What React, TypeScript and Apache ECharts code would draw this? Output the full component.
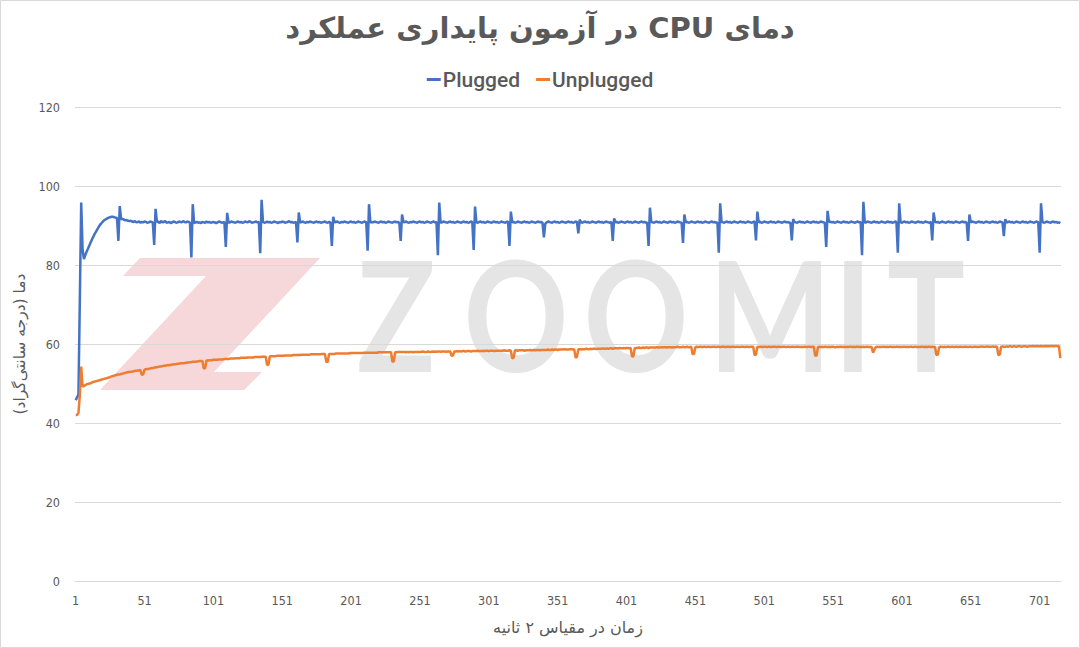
import React, { useEffect, useRef } from "react";
import * as echarts from "echarts";

const RLE = "\u202B";
const PDF = "\u202C";
const titleText = "دمای CPU در آزمون پایداری عملکرد";
const xAxisName = "زمان در مقیاس ۲ ثانیه";
const yAxisName = "دما (درجه سانتی‌گراد)";
const seriesNames = ["Plugged", "Unplugged"];
const yTicks = { min: 0, max: 120, interval: 20 };

// Plugged (blue) – 716 samples, 20 per row
const plugged: number[] = [
  45.8, 46.5, 47.2, 71.0, 95.8, 84.0, 81.5, 82.5, 83.4, 84.2, 85.0, 85.8, 86.6, 87.3, 88.0, 88.6, 89.2, 89.8, 90.3, 90.7,
  91.1, 91.4, 91.6, 91.8, 92.0, 92.1, 92.2, 92.2, 92.1, 92.0, 91.9, 86.1, 94.9, 91.6, 91.7, 91.5, 91.3, 91.4, 91.2, 91.1,
  91.2, 91.0, 90.9, 91.1, 90.8, 90.9, 91.0, 90.7, 90.9, 90.8, 91.0, 90.9, 90.7, 90.8, 91.0, 90.9, 90.8, 85.1, 94.2, 90.9,
  91.0, 90.6, 91.2, 90.8, 90.9, 91.1, 90.7, 90.8, 90.9, 90.6, 90.8, 91.0, 90.9, 90.7, 90.8, 91.0, 90.9, 90.8, 91.1, 90.9,
  90.8, 91.0, 90.9, 90.7, 81.9, 95.4, 90.6, 90.8, 90.9, 90.7, 90.8, 90.6, 90.9, 90.8, 90.7, 91.0, 90.8, 90.9, 90.7, 90.8,
  90.9, 90.8, 90.6, 90.8, 91.0, 90.9, 90.7, 90.8, 90.9, 84.6, 93.2, 90.7, 90.8, 91.0, 90.9, 90.8, 90.7, 90.9, 91.0, 90.8,
  90.9, 90.7, 90.8, 91.0, 90.9, 90.8, 91.1, 90.9, 90.7, 90.8, 90.9, 91.0, 90.8, 90.9, 83.0, 96.5, 90.9, 90.7, 90.8, 91.0,
  90.8, 90.9, 90.7, 90.8, 91.0, 90.9, 90.8, 90.6, 90.9, 90.8, 91.0, 90.9, 90.7, 90.8, 90.9, 91.1, 90.8, 90.9, 90.7, 90.8,
  90.9, 85.7, 93.3, 90.7, 90.9, 91.0, 90.8, 90.7, 90.9, 90.8, 91.0, 90.9, 90.8, 90.7, 90.9, 91.0, 90.8, 90.9, 90.7, 90.8,
  90.9, 91.0, 90.8, 90.7, 90.9, 90.8, 84.8, 92.2, 90.8, 90.9, 91.0, 90.8, 90.7, 90.9, 90.8, 91.0, 90.9, 90.8, 90.7, 90.9,
  91.0, 90.8, 90.9, 90.7, 90.8, 91.0, 90.9, 90.8, 90.7, 90.9, 91.0, 90.8, 83.6, 95.4, 90.7, 90.9, 90.8, 91.0, 90.9, 90.8,
  90.7, 90.9, 91.0, 90.8, 90.9, 90.7, 90.8, 91.0, 90.9, 90.8, 90.7, 90.9, 91.0, 90.8, 90.9, 90.7, 86.1, 92.8, 90.8, 90.9,
  91.0, 90.8, 90.7, 90.9, 90.8, 91.0, 90.9, 90.8, 90.7, 90.9, 91.0, 90.8, 90.9, 90.7, 90.8, 91.0, 90.9, 90.8, 90.7, 90.9,
  91.0, 90.8, 90.9, 82.5, 95.8, 90.7, 90.8, 91.0, 90.9, 90.8, 90.7, 90.9, 91.0, 90.8, 90.9, 90.7, 90.8, 91.0, 90.9, 90.8,
  90.7, 90.9, 91.0, 90.8, 90.9, 90.7, 90.8, 91.0, 90.9, 83.8, 94.8, 90.8, 90.7, 90.9, 91.0, 90.8, 90.9, 90.7, 90.8, 91.0,
  90.9, 90.8, 90.7, 90.9, 91.0, 90.8, 90.9, 90.7, 90.8, 91.0, 90.9, 90.8, 90.7, 90.9, 91.0, 84.8, 93.5, 90.8, 90.9, 90.7,
  90.8, 91.0, 90.9, 90.8, 90.7, 90.9, 91.0, 90.8, 90.9, 90.7, 90.8, 91.0, 90.9, 90.8, 90.7, 90.9, 91.0, 90.8, 90.9, 90.7,
  87.0, 90.4, 90.8, 91.0, 90.9, 90.8, 90.7, 90.9, 91.0, 90.8, 90.9, 90.7, 90.8, 91.0, 90.9, 90.8, 90.7, 90.9, 91.0, 90.8,
  90.9, 90.7, 90.8, 91.0, 90.9, 88.0, 91.5, 90.8, 90.7, 90.9, 91.0, 90.8, 90.9, 90.7, 90.8, 91.0, 90.9, 90.8, 90.7, 90.9,
  91.0, 90.8, 90.9, 90.7, 90.8, 91.0, 90.9, 90.8, 90.7, 90.9, 86.1, 91.8, 90.8, 90.9, 90.7, 90.8, 91.0, 90.9, 90.8, 90.7,
  90.9, 91.0, 90.8, 90.9, 90.7, 90.8, 91.0, 90.9, 90.8, 90.7, 90.9, 91.0, 90.8, 90.9, 90.7, 90.8, 84.8, 94.5, 90.9, 90.8,
  90.7, 90.9, 91.0, 90.8, 90.9, 90.7, 90.8, 91.0, 90.9, 90.8, 90.7, 90.9, 91.0, 90.8, 90.9, 90.7, 90.8, 91.0, 90.9, 90.8,
  90.7, 85.6, 92.8, 90.8, 90.9, 90.7, 90.8, 91.0, 90.9, 90.8, 90.7, 90.9, 91.0, 90.8, 90.9, 90.7, 90.8, 91.0, 90.9, 90.8,
  90.7, 90.9, 91.0, 90.8, 90.9, 90.7, 90.8, 83.1, 95.6, 90.9, 90.8, 90.7, 90.9, 91.0, 90.8, 90.9, 90.7, 90.8, 91.0, 90.9,
  90.8, 90.7, 90.9, 91.0, 90.8, 90.9, 90.7, 90.8, 91.0, 90.9, 90.8, 90.7, 90.9, 91.0, 86.2, 93.5, 90.8, 90.9, 90.7, 90.8,
  91.0, 90.9, 90.8, 90.7, 90.9, 91.0, 90.8, 90.9, 90.7, 90.8, 91.0, 90.9, 90.8, 90.7, 90.9, 91.0, 90.8, 90.9, 90.7, 90.8,
  86.2, 91.6, 90.9, 90.8, 90.7, 90.9, 91.0, 90.8, 90.9, 90.7, 90.8, 91.0, 90.9, 90.8, 90.7, 90.9, 91.0, 90.8, 90.9, 90.7,
  90.8, 91.0, 90.9, 90.8, 90.7, 84.6, 93.7, 90.9, 91.0, 90.8, 90.9, 90.7, 90.8, 91.0, 90.9, 90.8, 90.7, 90.9, 91.0, 90.8,
  90.9, 90.7, 90.8, 91.0, 90.9, 90.8, 90.7, 90.9, 91.0, 90.8, 90.9, 82.5, 96.0, 90.7, 90.8, 91.0, 90.9, 90.8, 90.7, 90.9,
  91.0, 90.8, 90.9, 90.7, 90.8, 91.0, 90.9, 90.8, 90.7, 90.9, 91.0, 90.8, 90.9, 90.7, 90.8, 91.0, 90.9, 83.1, 95.6, 90.8,
  90.7, 90.9, 91.0, 90.8, 90.9, 90.7, 90.8, 91.0, 90.9, 90.8, 90.7, 90.9, 91.0, 90.8, 90.9, 90.7, 90.8, 91.0, 90.9, 90.8,
  90.7, 90.9, 86.2, 93.3, 91.0, 90.8, 90.9, 90.7, 90.8, 91.0, 90.9, 90.8, 90.7, 90.9, 91.0, 90.8, 90.9, 90.7, 90.8, 91.0,
  90.9, 90.8, 90.7, 90.9, 91.0, 90.8, 90.9, 90.7, 86.1, 92.8, 90.8, 91.0, 90.9, 90.8, 90.7, 90.9, 91.0, 90.8, 90.9, 90.7,
  90.8, 91.0, 90.9, 90.8, 90.7, 90.9, 91.0, 90.8, 90.9, 90.7, 90.8, 91.0, 90.9, 90.8, 87.3, 91.6, 90.7, 90.9, 91.0, 90.8,
  90.9, 90.7, 90.8, 91.0, 90.9, 90.8, 90.7, 90.9, 91.0, 90.8, 90.9, 90.7, 90.8, 91.0, 90.9, 90.8, 90.7, 90.9, 91.0, 90.8,
  83.1, 95.6, 90.9, 90.7, 90.8, 91.0, 90.9, 90.8, 90.7, 90.9, 91.0, 90.8, 90.9, 90.7, 90.8, 90.6,
];

// Unplugged (orange) – 716 samples, 20 per row
const unplugged: number[] = [
  42.0, 42.0, 42.5, 47.0, 54.3, 49.2, 49.4, 49.6, 49.8, 49.9, 50.0, 50.1, 50.3, 50.4, 50.5, 50.6, 50.7, 50.8, 50.9, 51.0,
  51.1, 51.2, 51.3, 51.4, 51.5, 51.6, 51.8, 51.9, 52.0, 52.1, 52.2, 52.3, 52.3, 52.4, 52.5, 52.6, 52.7, 52.8, 52.9, 52.9,
  53.0, 53.0, 53.1, 53.2, 53.2, 53.3, 53.3, 53.4, 52.2, 52.3, 53.5, 53.6, 53.7, 53.7, 53.8, 53.9, 53.9, 54.0, 54.1, 54.1,
  54.2, 54.3, 54.3, 54.4, 54.5, 54.5, 54.6, 54.6, 54.7, 54.7, 54.8, 54.8, 54.9, 54.9, 55.0, 55.0, 55.1, 55.1, 55.1, 55.2,
  55.2, 55.3, 55.3, 55.4, 55.4, 55.5, 55.5, 55.5, 55.6, 55.6, 55.7, 55.7, 55.7, 53.8, 53.9, 55.8, 55.8, 55.9, 55.9, 55.9,
  56.0, 56.0, 56.0, 56.0, 56.1, 56.1, 56.1, 56.1, 56.2, 56.2, 56.2, 56.2, 56.3, 56.3, 56.3, 56.3, 56.4, 56.4, 56.4, 56.4,
  56.5, 56.5, 56.5, 56.5, 56.5, 56.6, 56.6, 56.6, 56.6, 56.6, 56.7, 56.7, 56.7, 56.7, 56.7, 56.8, 56.8, 56.8, 56.8, 54.7,
  54.8, 56.9, 56.9, 56.9, 56.9, 56.9, 57.0, 57.0, 57.0, 57.0, 57.0, 57.0, 57.1, 57.1, 57.1, 57.1, 57.1, 57.1, 57.2, 57.2,
  57.2, 57.2, 57.2, 57.2, 57.3, 57.3, 57.3, 57.3, 57.3, 57.3, 57.3, 57.4, 57.4, 57.4, 57.4, 57.4, 57.4, 57.4, 57.4, 57.5,
  57.5, 57.5, 55.4, 55.5, 57.5, 57.5, 57.5, 57.5, 57.5, 57.6, 57.6, 57.6, 57.6, 57.6, 57.6, 57.6, 57.6, 57.6, 57.6, 57.7,
  57.7, 57.7, 57.7, 57.7, 57.7, 57.7, 57.7, 57.7, 57.7, 57.8, 57.8, 57.8, 57.8, 57.8, 57.8, 57.8, 57.8, 57.8, 57.8, 57.8,
  57.9, 57.9, 57.9, 57.9, 57.9, 57.9, 57.9, 57.9, 57.9, 57.9, 55.5, 55.6, 57.9, 57.9, 58.0, 58.0, 58.0, 58.0, 58.0, 58.0,
  57.9, 58.0, 57.9, 58.0, 58.0, 57.9, 58.0, 58.0, 58.0, 58.0, 58.0, 58.0, 58.1, 58.0, 58.0, 58.0, 58.1, 58.0, 58.0, 58.1,
  58.0, 58.1, 58.0, 58.1, 58.1, 58.0, 58.1, 58.1, 58.1, 58.0, 58.1, 58.1, 58.1, 57.0, 57.1, 58.1, 58.1, 58.2, 58.1, 58.2,
  58.1, 58.2, 58.2, 58.1, 58.2, 58.2, 58.2, 58.1, 58.2, 58.2, 58.2, 58.2, 58.3, 58.2, 58.2, 58.2, 58.3, 58.2, 58.3, 58.3,
  58.2, 58.3, 58.3, 58.3, 58.2, 58.3, 58.3, 58.3, 58.3, 58.3, 58.3, 58.4, 58.3, 58.3, 58.3, 58.4, 58.3, 56.4, 56.5, 58.4,
  58.4, 58.3, 58.4, 58.4, 58.4, 58.4, 58.3, 58.4, 58.4, 58.4, 58.5, 58.4, 58.4, 58.5, 58.4, 58.5, 58.5, 58.4, 58.5, 58.5,
  58.5, 58.5, 58.5, 58.6, 58.5, 58.5, 58.6, 58.5, 58.6, 58.6, 58.5, 58.6, 58.6, 58.6, 58.6, 58.7, 58.6, 58.6, 58.6, 58.7,
  58.7, 58.6, 58.7, 56.6, 56.7, 58.7, 58.7, 58.6, 58.7, 58.7, 58.7, 58.8, 58.7, 58.7, 58.8, 58.7, 58.8, 58.8, 58.7, 58.8,
  58.8, 58.8, 58.8, 58.9, 58.8, 58.8, 58.9, 58.8, 58.9, 58.9, 58.8, 58.9, 58.9, 58.9, 58.9, 59.0, 58.9, 58.9, 59.0, 58.9,
  59.0, 59.0, 58.9, 59.0, 56.8, 56.9, 59.0, 59.0, 59.0, 59.1, 59.0, 59.0, 59.1, 59.0, 59.1, 59.1, 59.0, 59.1, 59.1, 59.1,
  59.1, 59.1, 59.2, 59.1, 59.1, 59.2, 59.1, 59.2, 59.2, 59.1, 59.2, 59.2, 59.2, 59.1, 59.2, 59.2, 59.2, 59.3, 59.2, 59.2,
  59.2, 59.3, 59.2, 59.2, 59.3, 59.2, 59.2, 59.3, 57.4, 57.5, 59.2, 59.3, 59.2, 59.3, 59.3, 59.2, 59.3, 59.3, 59.2, 59.3,
  59.3, 59.2, 59.3, 59.3, 59.3, 59.2, 59.3, 59.3, 59.2, 59.3, 59.3, 59.3, 59.2, 59.3, 59.3, 59.2, 59.3, 59.3, 59.3, 59.2,
  59.3, 59.3, 59.2, 59.3, 59.3, 59.3, 59.2, 59.3, 59.3, 59.2, 59.3, 59.3, 59.3, 57.2, 57.3, 59.3, 59.2, 59.3, 59.3, 59.2,
  59.3, 59.3, 59.2, 59.3, 59.3, 59.2, 59.3, 59.3, 59.3, 59.2, 59.3, 59.3, 59.2, 59.3, 59.3, 59.3, 59.2, 59.3, 59.3, 59.2,
  59.3, 59.3, 59.2, 59.3, 59.3, 59.3, 59.2, 59.3, 59.2, 59.3, 59.3, 59.2, 59.3, 59.3, 59.2, 59.3, 59.3, 57.0, 57.1, 59.2,
  59.3, 59.2, 59.3, 59.2, 59.3, 59.3, 59.2, 59.3, 59.2, 59.3, 59.3, 59.2, 59.2, 59.3, 59.2, 59.3, 59.3, 59.2, 59.3, 59.2,
  59.3, 59.2, 59.3, 59.3, 59.2, 59.3, 59.2, 59.3, 59.3, 59.2, 59.3, 59.2, 59.3, 59.2, 59.3, 59.3, 59.2, 59.3, 59.2, 57.8,
  58.6, 59.2, 59.3, 59.2, 59.3, 59.2, 59.3, 59.3, 59.2, 59.3, 59.2, 59.3, 59.3, 59.2, 59.3, 59.2, 59.3, 59.3, 59.2, 59.3,
  59.2, 59.3, 59.3, 59.2, 59.3, 59.2, 59.3, 59.3, 59.2, 59.3, 59.3, 59.2, 59.3, 59.2, 59.3, 59.3, 59.2, 59.3, 59.2, 59.3,
  59.3, 59.2, 59.3, 59.2, 59.3, 57.2, 57.3, 59.2, 59.3, 59.3, 59.2, 59.3, 59.2, 59.3, 59.3, 59.2, 59.3, 59.3, 59.2, 59.3,
  59.3, 59.2, 59.3, 59.3, 59.2, 59.3, 59.3, 59.3, 59.2, 59.3, 59.3, 59.2, 59.3, 59.3, 59.3, 59.2, 59.3, 59.3, 59.4, 59.3,
  59.3, 59.3, 59.4, 59.3, 59.3, 59.3, 59.4, 59.3, 59.3, 59.4, 57.2, 57.3, 59.3, 59.4, 59.3, 59.3, 59.4, 59.3, 59.4, 59.4,
  59.3, 59.4, 59.4, 59.3, 59.4, 59.4, 59.4, 59.3, 59.4, 59.4, 59.4, 59.3, 59.4, 59.4, 59.4, 59.5, 59.4, 59.4, 59.5, 59.4,
  59.4, 59.5, 59.4, 59.4, 59.5, 59.4, 59.5, 59.4, 59.5, 59.5, 59.4, 59.5, 59.5, 59.4, 59.5, 56.4,
];

// Categories: sample numbers 1..N (one per 2-second sample)
const categories: string[] = plugged.map((_, i) => String(i + 1));

// Watermark letters and their centre positions
const watermarkLetters: [string, number][] = [
  ["Z", 396], ["O", 516], ["O", 636], ["M", 770], ["I", 853], ["T", 926],
];

const TEXT = "#595959";
const BLUE = "#4472C4";
const ORANGE = "#ED7D31";

export default function App() {
  const ref = useRef<HTMLDivElement>(null);
  useEffect(() => {
    document.body.style.margin = "0";
    const chart = echarts.init(ref.current!, undefined, { renderer: "svg" });
    const option: any = {
      animation: false,
      backgroundColor: "#ffffff",
      title: {
        text: RLE + titleText + PDF,
        left: "center",
        top: 8,
        textStyle: {
          fontFamily: "DejaVu Sans",
          fontWeight: "bold",
          fontSize: 29,
          color: TEXT,
        },
      },
      legend: {
        top: 64,
        left: "center",
        icon: "rect",
        itemWidth: 14,
        itemHeight: 3,
        itemGap: 16,
        textStyle: { fontFamily: "Roboto", fontWeight: 500, fontSize: 21, color: TEXT, padding: [0, 0, 0, -3] },
        data: seriesNames,
      },
      grid: { left: 75, right: 19, top: 107, bottom: 67, containLabel: false },
      xAxis: {
        type: "category",
        data: categories,
        boundaryGap: true,
        name: RLE + xAxisName + PDF,
        nameLocation: "middle",
        nameGap: 38,
        nameTextStyle: { fontFamily: "DejaVu Sans", fontSize: 16, color: TEXT },
        axisLine: { show: true, lineStyle: { color: "#d9d9d9" } },
        axisTick: { show: false },
        axisLabel: {
          interval: 49,
          margin: 13,
          fontFamily: "DejaVu Sans Condensed",
          fontSize: 12.5,
          color: TEXT,
        },
        splitLine: { show: false },
      },
      yAxis: {
        type: "value",
        min: yTicks.min,
        max: yTicks.max,
        interval: yTicks.interval,
        name: RLE + yAxisName + PDF,
        nameLocation: "middle",
        nameRotate: 90,
        nameGap: 42,
        nameTextStyle: { fontFamily: "DejaVu Sans", fontSize: 15.5, color: TEXT },
        axisLine: { show: false },
        axisTick: { show: false },
        axisLabel: { margin: 15, fontFamily: "DejaVu Sans Condensed", fontSize: 12.5, color: TEXT },
        splitLine: { lineStyle: { color: "#d9d9d9", width: 1 } },
      },
      graphic: [
        {
          type: "rect",
          z: -20,
          silent: true,
          shape: { x: 0.5, y: 0.5, width: 1079, height: 647 },
          style: { fill: "none", stroke: "#d9d9d9", lineWidth: 1 },
        },
        {
          type: "polygon",
          z: -10,
          silent: true,
          shape: {
            points: [
              [140, 258], [320, 258], [214, 372], [262, 372], [244, 390], [100, 390], [206, 276], [123, 276],
            ],
          },
          style: { fill: "#f6d7da" },
        },
        ...watermarkLetters.map(([ch, cx]) => ({
          type: "text",
          z: -10,
          silent: true,
          x: cx,
          y: 313,
          scaleX: 0.85,
          style: {
            text: ch,
            fontFamily: "Lato",
            fontWeight: "bold",
            fontSize: 153,
            fill: "#e5e5e5",
            textAlign: "center",
            textVerticalAlign: "middle",
            align: "center",
            verticalAlign: "middle",
          },
        })),
      ],
      series: [
        {
          name: seriesNames[0],
          type: "line",
          data: plugged,
          showSymbol: false,
          symbol: "none",
          z: 3,
          lineStyle: { color: BLUE, width: 2.5 },
          itemStyle: { color: BLUE },
        },
        {
          name: seriesNames[1],
          type: "line",
          data: unplugged,
          showSymbol: false,
          symbol: "none",
          z: 3,
          lineStyle: { color: ORANGE, width: 2.5 },
          itemStyle: { color: ORANGE },
        },
      ],
    };
    chart.setOption(option);
    return () => chart.dispose();
  }, []);
  return (
    <div
      ref={ref}
      style={{ position: "absolute", left: 0, top: 0, width: 1080, height: 648 }}
    />
  );
}
